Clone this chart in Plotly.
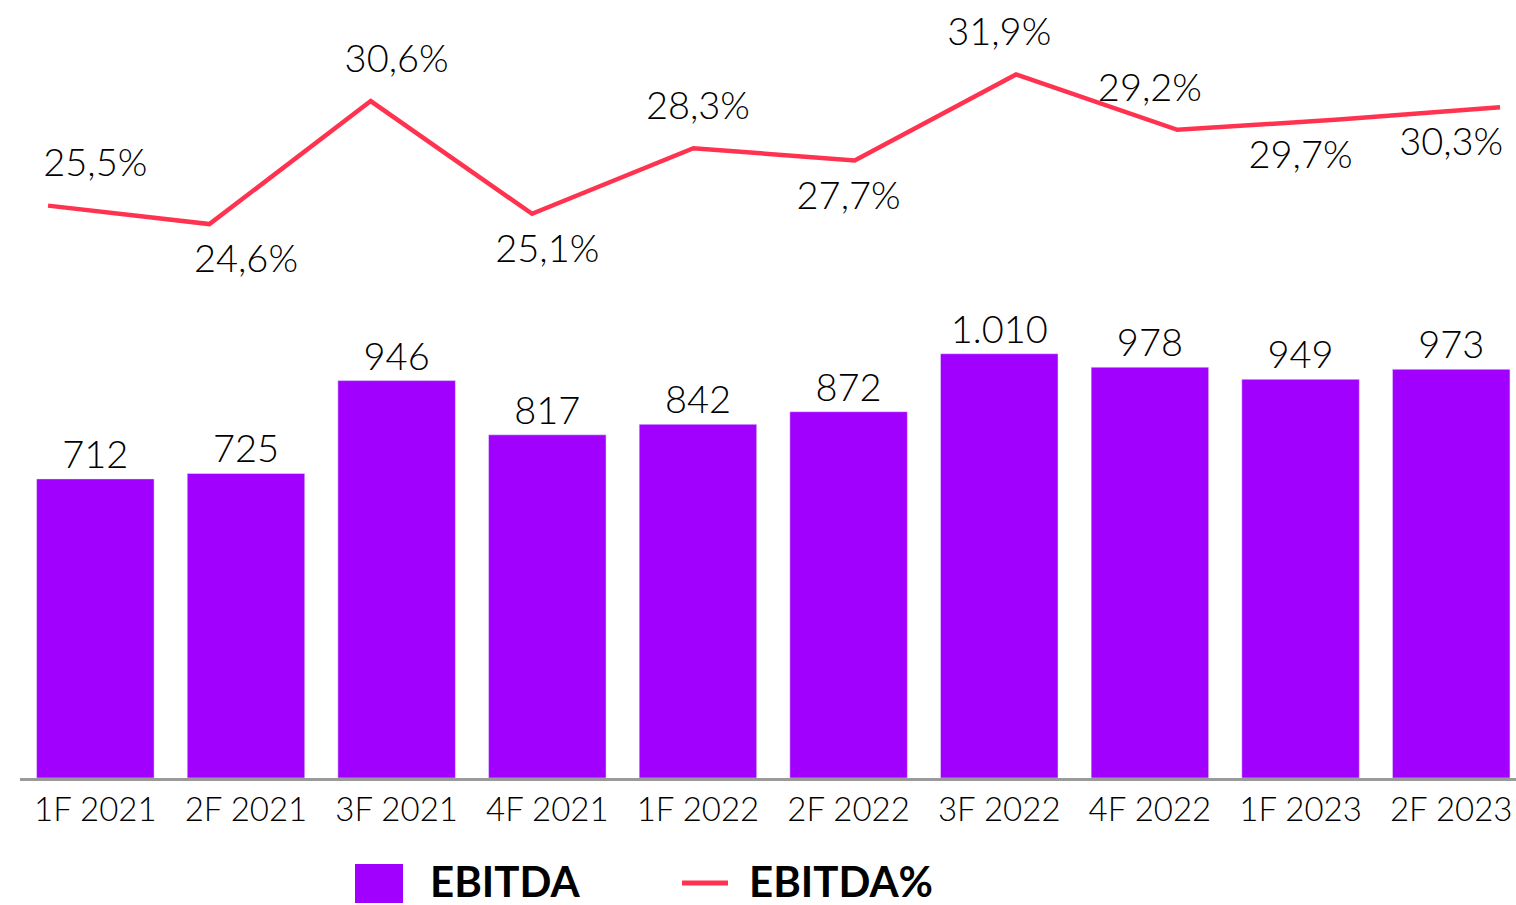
import plotly.graph_objects as go

periods = ["1F 2021", "2F 2021", "3F 2021", "4F 2021", "1F 2022",
           "2F 2022", "3F 2022", "4F 2022", "1F 2023", "2F 2023"]
ebitda = [712, 725, 946, 817, 842, 872, 1010, 978, 949, 973]
ebitda_pct = [25.5, 24.6, 30.6, 25.1, 28.3, 27.7, 31.9, 29.2, 29.7, 30.3]
pct_label_pos = ["top center", "bottom center", "top center", "bottom center", "top center",
                 "bottom center", "top center", "top center", "bottom center", "bottom center"]

PURPLE = "#A100FF"
RED = "#FF3350"
FONT = "Lato"

fig = go.Figure()

fig.add_bar(
    x=periods,
    y=ebitda,
    marker_color=PURPLE,
    texttemplate="%{y:,}",
    textposition="outside",
    textfont=dict(family=FONT, size=38, color="black", weight=300),
    cliponaxis=False,
    showlegend=False,
)

# line is drawn on a stretched category axis so it spans the full width
fig.add_scatter(
    x=periods,
    y=ebitda_pct,
    xaxis="x2",
    yaxis="y2",
    mode="lines",
    line=dict(color=RED, width=4.5),
    showlegend=False,
)

# percentage labels, centred over the bar categories
fig.add_scatter(
    x=periods,
    y=ebitda_pct,
    yaxis="y2",
    mode="markers+text",
    marker=dict(size=30, opacity=0),
    text=[f"{v:.1f}%".replace(".", ",") for v in ebitda_pct],
    textposition=pct_label_pos,
    textfont=dict(family=FONT, size=38, color="black", weight=300),
    cliponaxis=False,
    showlegend=False,
    hoverinfo="skip",
)

# legend drawn by hand so the keys can be as large as in the original
fig.add_shape(type="rect", xref="paper", yref="paper",
              x0=(355 - 20) / 1496, x1=(403 - 20) / 1496,
              y0=-(903 - 778) / 778, y1=-(864 - 778) / 778,
              fillcolor=PURPLE, line_width=0)
fig.add_shape(type="line", xref="paper", yref="paper",
              x0=(682 - 20) / 1496, x1=(728 - 20) / 1496,
              y0=-(883 - 778) / 778, y1=-(883 - 778) / 778,
              line=dict(color=RED, width=5))
fig.add_annotation(text="<b>EBITDA</b>", xref="paper", yref="paper",
                   x=(428 - 20) / 1496, y=-(881 - 778) / 778,
                   xanchor="left", yanchor="middle", showarrow=False,
                   font=dict(family=FONT, size=42, color="black", weight=900))
fig.add_annotation(text="<b>EBITDA%</b>", xref="paper", yref="paper",
                   x=(747 - 20) / 1496, y=-(881 - 778) / 778,
                   xanchor="left", yanchor="middle", showarrow=False,
                   font=dict(family=FONT, size=42, color="black", weight=900))

fig.update_layout(
    width=1516,
    height=905,
    margin=dict(l=20, r=0, t=0, b=127),
    plot_bgcolor="white",
    paper_bgcolor="white",
    separators=",.",
    bargap=0.22,
    font=dict(family=FONT, color="black"),
    xaxis=dict(
        type="category",
        range=[-0.5, 9.43],
        showline=True,
        linecolor="#9A9A9A",
        linewidth=3,
        showgrid=False,
        ticks="",
        tickfont=dict(family=FONT, size=33, color="black", weight=300),
    ),
    xaxis2=dict(
        type="category",
        overlaying="x",
        range=[-0.174, 9.099],
        visible=False,
    ),
    yaxis=dict(
        range=[0, 1852],
        visible=False,
    ),
    yaxis2=dict(
        overlaying="y",
        range=[-2.42, 35.53],
        visible=False,
    ),
)

fig.write_html("out.html", config={"displayModeBar": False},
               post_script="document.body.style.margin='0';")
